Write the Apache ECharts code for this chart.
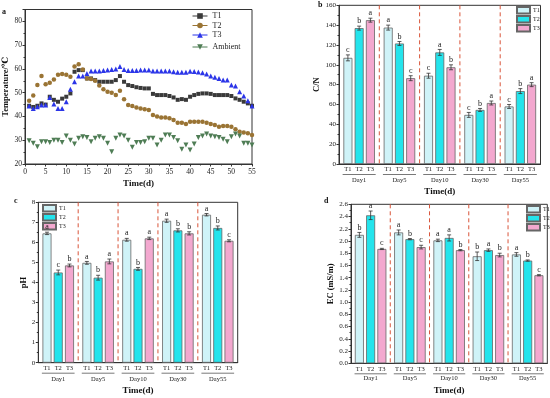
<!DOCTYPE html>
<html>
<head>
<meta charset="utf-8">
<script src="https://cdn.jsdelivr.net/npm/echarts@6/dist/echarts.min.js"></script>
<style>html,body{margin:0;padding:0;background:#fff;}#c{width:550px;height:398px;}</style>
</head>
<body>
<div id="c"></div>
<script>
// ---------- Panel a: temperature ----------
const days = [1,2,3,4,5,6,7,8,9,10,11,12,13,14,15,16,17,18,19,20,21,22,23,24,25,26,27,28,29,30,31,32,33,34,35,36,37,38,39,40,41,42,43,44,45,46,47,48,49,50,51,52,53,54,55];
const tempT1 = [44.5,44,44.5,45.5,45,48.3,47,46.2,47.5,48.3,49.7,58.8,59.5,59.5,56,56,55.3,54.6,54.6,54.6,54.6,55.3,57,54.6,53.2,52.8,52.3,52,51.8,51.8,49.5,49,49,49,48.6,48,47,47.3,47,48.3,49,49.5,49.7,49.7,49.5,49,49,49,49,48.6,47.6,47,46.2,45.5,44.5];
const tempT2 = [46.6,48.8,53.2,57,53.6,54.2,55.6,57.6,57.9,57.5,56.7,61,62,59.8,56,55.8,55,53,51.4,50.4,50,49,50.8,47.2,44.8,44.4,43.8,43.4,43,42.7,40.6,40,39.6,39.6,39.2,38.5,37.4,37.4,36.8,37.8,37.8,37.8,37.8,37.4,36.8,36.4,35.7,36,36,35.7,34.6,33.6,33.2,32.9,32.2];
const tempT3 = [44.4,43.4,44.1,44.8,44.8,48,45.2,43.4,43.4,46.2,51.4,54.6,57,57,58.1,59.1,59.1,59.1,59.3,59.5,59.8,60,61,59.8,59.3,59.3,59.3,59.5,59.5,59.5,59.1,59.1,59.1,59.1,59.1,58.8,58.6,58.6,58.6,59,58.9,58.7,58.4,57.9,57,56.5,56,55.3,55.3,53.2,52.8,50.4,48.6,46.6,44.4];
const tempAmb = [29.8,28.7,27.3,29.4,29.4,29,30,30,29,31.8,30,28.4,30.8,31.5,31.2,29.4,30.8,31.5,30.8,28.7,25.2,30.8,32.2,31.8,30,27,29,29,29.4,30.8,30.8,28,30,32.2,32.2,31.2,29.8,26.2,28,25.9,28.4,31.2,31.8,32.6,31.8,31.5,31.2,30.4,29.4,31.5,32.6,31.8,28.7,28.7,28];

// ---------- Bar panels ----------
const groups = ['Day1','Day5','Day10','Day30','Day55'];
const treatments = ['T1','T2','T3'];

const cnT1 = [107,137.5,89,49.5,58];
const cnT2 = [137,121.5,112.5,54.5,73.5];
const cnT3 = [145,86.5,97.5,61.5,80];
const cnErrT1 = [3,2.5,2.5,2.5,2];
const cnErrT2 = [2,2,3,1.5,2.5];
const cnErrT3 = [2,2.5,2.5,2,2];
const cnLetT1 = ['c','a','c','c','c'];
const cnLetT2 = ['b','b','a','b','b'];
const cnLetT3 = ['a','c','b','a','a'];

const phT1 = [6.45,4.98,6.13,7.08,7.38];
const phT2 = [4.5,4.24,4.68,6.6,6.72];
const phT3 = [4.85,5.05,6.2,6.45,6.08];
const phErrT1 = [0.06,0.07,0.07,0.08,0.06];
const phErrT2 = [0.12,0.12,0.07,0.08,0.1];
const phErrT3 = [0.07,0.12,0.06,0.08,0.05];
const phLetT1 = ['a','a','a','a','a'];
const phLetT2 = ['c','b','b','b','b'];
const phLetT3 = ['b','a','a','b','c'];

const ecT1 = [2.10,2.14,2.01,1.75,1.78];
const ecT2 = [2.42,2.03,2.05,1.85,1.68];
const ecT3 = [1.87,1.90,1.85,1.77,1.44];
const ecErrT1 = [0.04,0.04,0.02,0.07,0.03];
const ecErrT2 = [0.07,0.01,0.05,0.02,0.01];
const ecErrT3 = [0.01,0.03,0.01,0.03,0.01];
const ecLetT1 = ['b','a','a','b','a'];
const ecLetT2 = ['a','b','a','a','b'];
const ecLetT3 = ['c','c','b','b','c'];

// ---------- styling ----------
const FF = '"Liberation Serif","DejaVu Serif",serif';
const barColors = ['#cff3f8','#24e4ec','#f3a8cf'];
const BAR_W = 9, BAR_GAP = 0.25, STEP = BAR_W * (1 + BAR_GAP);

const chart = echarts.init(document.getElementById('c'));

const grids = [
  {left:25, top:9.5, width:227, height:154.5},
  {left:339, top:5.3, width:201.5, height:158.7},
  {left:38.3, top:202.3, width:199.4, height:160.4},
  {left:351, top:204.3, width:196.3, height:159}
].map(g => Object.assign({show:true, borderColor:'#333', borderWidth:1, backgroundColor:'transparent', containLabel:false}, g));

const axisLbl = {fontFamily:FF, fontSize:7, color:'#222'};
const nameStyle = {fontFamily:FF, fontSize:8.5, fontWeight:'bold', color:'#111'};

function yAxisCfg(gi, min, max, interval, name, nameGap, fmt) {
  return {
    type:'value', gridIndex:gi, min, max, interval,
    name, nameLocation:'middle', nameGap, nameTextStyle:nameStyle,
    axisLine:{show:true, lineStyle:{color:'#333', width:1}},
    axisTick:{show:true, length:2.5, lineStyle:{color:'#333'}},
    minorTick:{show:true, splitNumber:2, length:1.5, lineStyle:{color:'#333'}},
    splitLine:{show:false},
    axisLabel:Object.assign({margin:3, formatter:fmt}, axisLbl)
  };
}

function catAxis(gi, margin, nameGap) {
  return {
    type:'category', gridIndex:gi, data:groups,
    name:'Time(d)', nameLocation:'middle', nameGap, nameTextStyle:Object.assign({}, nameStyle, {fontSize:9}),
    axisLine:{show:true, lineStyle:{color:'#333'}},
    axisTick:{show:false},
    axisLabel:Object.assign({}, axisLbl, {fontSize:6.5, margin}),
    splitLine:{show:false}
  };
}

function barSeries(gi, prefix, vals) {
  return vals.map((v, s) => ({
    type:'bar', name: prefix + ':' + treatments[s], xAxisIndex:gi, yAxisIndex:gi,
    data:v, barWidth:BAR_W, barGap:(BAR_GAP*100)+'%',
    itemStyle:{color:barColors[s], borderColor:'#666', borderWidth:0.8},
    label:{show:true, position:'bottom', distance:2, formatter:() => treatments[s], fontFamily:FF, fontSize:6.5, color:'#222'},
    emphasis:{disabled:true}
  }));
}

function overlaySeries(gi, vals, errs, lets, ymax) {
  const data = [], letters = [];
  for (let g = 0; g < groups.length; g++) {
    for (let s = 0; s < 3; s++) {
      data.push([g, vals[s][g], errs[s][g], s]);
      letters.push(lets[s][g]);
    }
  }
  return {
    type:'custom', xAxisIndex:gi, yAxisIndex:gi, clip:false, silent:true, z:10,
    encode:{x:0, y:1}, data,
    renderItem(params, api) {
      const g = api.value(0), v = api.value(1), e = api.value(2), s = api.value(3);
      const base = api.coord([g, 0]);
      const band = api.size([1, 0])[0];
      const x = base[0] + (s - 1) * STEP;
      const top = api.coord([g, v + e])[1];
      const bot = api.coord([g, v - e])[1];
      const ls = {stroke:'#333', lineWidth:0.8};
      const ch = [
        {type:'line', shape:{x1:x, y1:top, x2:x, y2:bot}, style:ls},
        {type:'line', shape:{x1:x-2, y1:top, x2:x+2, y2:top}, style:ls},
        {type:'line', shape:{x1:x-2, y1:bot, x2:x+2, y2:bot}, style:ls},
        {type:'text', style:{text:letters[params.dataIndex], x:x, y:top-1, align:'center', verticalAlign:'bottom', fontFamily:FF, fontSize:8, fill:'#1a1a1a'}}
      ];
      if (s === 0) {
        ch.push({type:'line', shape:{x1:base[0]-band*0.41, y1:base[1]+10.5, x2:base[0]+band*0.41, y2:base[1]+10.5}, style:{stroke:'#555', lineWidth:0.8}});
        if (g > 0) {
          const yt = api.coord([g, ymax])[1];
          const xs = base[0] - band/2;
          ch.push({type:'line', shape:{x1:xs, y1:yt, x2:xs, y2:base[1]}, style:{stroke:'#d9553a', lineWidth:1, lineDash:[4,3]}});
        }
      }
      return {type:'group', children:ch};
    }
  };
}

function barLegend(prefix, left, top) {
  return {
    orient:'vertical', left, top, itemWidth:13, itemHeight:6.5, itemGap:0.5, icon:'rect',
    data: treatments.map(t => prefix + ':' + t),
    formatter: n => n.split(':')[1],
    textStyle:{fontFamily:FF, fontSize:6, color:'#222', padding:[0,0,0,-2]},
    selectedMode:false, padding:0
  };
}

const lineSym = (name, data, color, symbol, rotate, size) => ({
  type:'line', name, xAxisIndex:0, yAxisIndex:0,
  data: days.map((d, i) => [d, data[i]]),
  symbol, symbolRotate:rotate, symbolSize:size, showSymbol:true,
  itemStyle:{color}, lineStyle:{opacity:0, color, width:1},
  emphasis:{disabled:true}, z:3
});

const option = {
  animation:false,
  textStyle:{fontFamily:FF},
  grid:grids,
  xAxis:[
    {type:'value', gridIndex:0, min:0, max:55, interval:5,
     name:'Time(d)', nameLocation:'middle', nameGap:15.5, nameTextStyle:Object.assign({}, nameStyle, {fontSize:9}),
     axisLine:{show:true, lineStyle:{color:'#333'}},
     axisTick:{show:true, length:2.5, lineStyle:{color:'#333'}},
     minorTick:{show:true, splitNumber:2, length:1.5, lineStyle:{color:'#333'}},
     splitLine:{show:false},
     axisLabel:Object.assign({margin:4}, axisLbl, {fontSize:7.5})},
    catAxis(1, 12.5, 23.5),
    catAxis(2, 13, 23.8),
    catAxis(3, 11.5, 23.2)
  ],
  yAxis:[
    Object.assign(yAxisCfg(0, 20, 85, 10, 'Temperature/℃', 13), {axisLabel:Object.assign({margin:3, showMaxLabel:false}, axisLbl, {fontSize:7.5})}),
    yAxisCfg(1, 0, 160, 20, 'C/N', 10),
    yAxisCfg(2, 0, 8, 1, 'pH', 7),
    yAxisCfg(3, 0, 2.6, 0.2, 'EC (mS/m)', 15, v => v.toFixed(1))
  ],
  legend:[
    {orient:'vertical', left:192, top:12, itemWidth:15, itemHeight:7, itemGap:1.5,
     data:['T1','T2','T3'], textStyle:{fontFamily:FF, fontSize:8, color:'#222'},
     lineStyle:{opacity:1, width:1}, selectedMode:false, padding:0},
    {orient:'vertical', left:192, top:43, itemWidth:15, itemHeight:7,
     data:['Ambient'], textStyle:{fontFamily:FF, fontSize:8, color:'#222'},
     lineStyle:{opacity:1, width:1}, selectedMode:false, padding:0},
    barLegend('b', 516, 6),
    barLegend('c', 42, 204),
    barLegend('d', 526, 205)
  ],
  graphic:[
    {type:'text', left:2, top:8, style:{text:'a', fontFamily:FF, fontSize:8, fontWeight:'bold', fill:'#111'}},
    {type:'text', left:318, top:1, style:{text:'b', fontFamily:FF, fontSize:8, fontWeight:'bold', fill:'#111'}},
    {type:'text', left:14, top:197, style:{text:'c', fontFamily:FF, fontSize:8, fontWeight:'bold', fill:'#111'}},
    {type:'text', left:324, top:197, style:{text:'d', fontFamily:FF, fontSize:8, fontWeight:'bold', fill:'#111'}}
  ],
  series:[
    lineSym('T1', tempT1, '#3a3a3a', 'rect', 0, 4),
    lineSym('T2', tempT2, '#9a7434', 'circle', 0, 4.5),
    lineSym('T3', tempT3, '#2b35e8', 'triangle', 0, 5),
    lineSym('Ambient', tempAmb, '#4f7d55', 'triangle', 180, 5),
    ...barSeries(1, 'b', [cnT1, cnT2, cnT3]),
    overlaySeries(1, [cnT1, cnT2, cnT3], [cnErrT1, cnErrT2, cnErrT3], [cnLetT1, cnLetT2, cnLetT3], 160),
    ...barSeries(2, 'c', [phT1, phT2, phT3]),
    overlaySeries(2, [phT1, phT2, phT3], [phErrT1, phErrT2, phErrT3], [phLetT1, phLetT2, phLetT3], 8),
    ...barSeries(3, 'd', [ecT1, ecT2, ecT3]),
    overlaySeries(3, [ecT1, ecT2, ecT3], [ecErrT1, ecErrT2, ecErrT3], [ecLetT1, ecLetT2, ecLetT3], 2.6)
  ]
};
chart.setOption(option);
</script>
</body>
</html>
